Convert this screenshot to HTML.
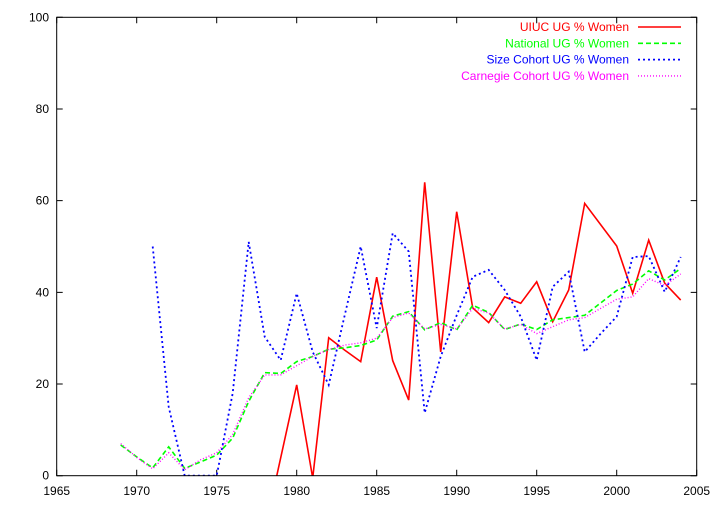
<!DOCTYPE html>
<html><head><meta charset="utf-8"><style>
body{margin:0;background:#fff}
svg text{font-family:"Liberation Sans",sans-serif;font-size:12px}
</style></head><body>
<svg id="chart" width="720" height="504" xmlns="http://www.w3.org/2000/svg">
<rect width="720" height="504" fill="#fff"/>
<g id="grid"></g>
<defs><clipPath id="clip"><rect x="56.7" y="17.3" width="640" height="458.4"/></clipPath></defs>
<g id="series" clip-path="url(#clip)"></g>
<rect x="56.7" y="17.3" width="640" height="458.4" fill="none" stroke="#000" stroke-width="1"/>
<g id="legend"></g>
</svg>
<script>
const xTicks=[1965,1970,1975,1980,1985,1990,1995,2000,2005];
const yTicks=[0,20,40,60,80,100];
const uiucYears=[1978,1980,1981,1982,1983,1984,1985,1986,1987,1988,1989,1990,1991,1992,1993,1994,1995,1996,1997,1998,2000,2001,2002,2003,2004];
const uiucVals=[-12,19.8,-0.5,30.1,27.4,24.9,43.3,25.1,16.5,64,27,57.6,36.6,33.4,39,37.6,42.3,33.6,40.5,59.4,50.1,39.8,51.4,42,38.3];
const sizeYears=[1971,1972,1973,1974,1975,1976,1977,1978,1979,1980,1981,1982,1983,1984,1985,1986,1987,1988,1989,1990,1991,1992,1993,1994,1995,1996,1997,1998,1999,2000,2001,2002,2003,2004];
const sizeVals=[50,15,0,0,0,18,51,30.3,25.2,39.8,27,19.8,35,50,32.2,52.9,48.9,13.7,26,35,43.4,44.9,40.5,34.7,25.2,41.2,44.5,27,31,34.7,47.7,47.9,40.1,47.7];
const natYears=[1969,1970,1971,1972,1973,1974,1975,1976,1977,1978,1979,1980,1981,1982,1983,1984,1985,1986,1987,1988,1989,1990,1991,1992,1993,1994,1995,1996,1997,1998,1999,2000,2001,2002,2003,2004];
const natVals=[6.7,4.1,1.7,6.3,1.6,3,4.5,8.2,16.2,22.5,22.3,24.9,26,27.6,27.9,28.4,29.6,34.8,35.8,31.8,33.4,31.8,37.2,35.6,31.9,33.1,31.9,34,34.5,35,37.7,40.4,41.8,44.7,42.7,45.2];
const carVals=[7,4,1.5,5,1.3,3.5,5,9,17,22,22,24,26,27.5,28.5,29,30,34.5,35.5,32,33,32,36.5,35.5,32,33,31,32.5,34,34.5,36.5,38.5,39,43,41.5,44];
const NS="http://www.w3.org/2000/svg";
const X0=56.7,X1=696.7,Y0=475.7,Y1=17.3;
function xs(v){return X0+(v-1965)/40*(X1-X0);}
function ys(v){return Y0-v/100*(Y0-Y1);}
function mk(tag,attrs,parent){const e=document.createElementNS(NS,tag);for(const k in attrs)e.setAttribute(k,attrs[k]);parent.appendChild(e);return e;}
const grid=document.getElementById('grid');
xTicks.forEach(t=>{const x=xs(t);
 const a=mk('path',{d:`M${x},${Y0}v-6M${x},${Y1}v6`,stroke:'#000','stroke-width':1},grid);
 
 
 const l=mk('text',{x:x,y:495,'text-anchor':'middle'},grid);l.textContent=t;
 
 
});
yTicks.forEach(t=>{const y=ys(t);
 const a=mk('path',{d:`M${X0},${y}h6M${X1},${y}h-6`,stroke:'#000','stroke-width':1},grid);
 
 
 const l=mk('text',{x:49,y:y+4,'text-anchor':'end'},grid);l.textContent=t;
 
 
});
const series=[
 {name:'UIUC UG % Women',yrs:uiucYears,vals:uiucVals,color:'#ff0000',dash:'',w:1.6,id:'uiuc-line'},
 {name:'National UG % Women',yrs:natYears,vals:natVals,color:'#00ff00',dash:'5,3',w:1.6,id:'national-line'},
 {name:'Size Cohort UG % Women',yrs:sizeYears,vals:sizeVals,color:'#0000ff',dash:'2,3',w:1.8,id:'size-cohort-line'},
 {name:'Carnegie Cohort UG % Women',yrs:natYears,vals:carVals,color:'#ff00ff',dash:'1,2',w:1.4,id:'carnegie-cohort-line'}];
const sg=document.getElementById('series'),lg=document.getElementById('legend');
series.forEach((s,i)=>{
 const pts=s.yrs.map((y,j)=>xs(y).toFixed(1)+','+ys(s.vals[j]).toFixed(1)).join(' ');
 const p=mk('polyline',{points:pts,fill:'none',stroke:s.color,'stroke-width':s.w,'stroke-dasharray':s.dash},sg);
 
 
 const ly=27+i*16.3;
 const t=mk('text',{x:629,y:ly+4,'text-anchor':'end',fill:s.color},lg);t.textContent=s.name;
 
 
 const l=mk('line',{x1:638,x2:681,y1:ly,y2:ly,stroke:s.color,'stroke-width':s.w,'stroke-dasharray':s.dash},lg);
 
 
});
</script>
</body></html>
